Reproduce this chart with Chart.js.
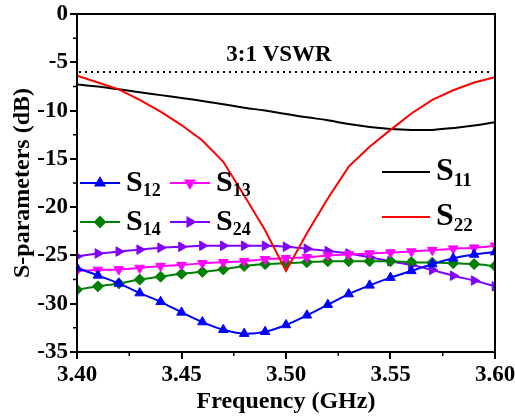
<!DOCTYPE html>
<html>
<head>
<meta charset="utf-8">
<script src="https://cdn.jsdelivr.net/npm/chart.js@4.4.1/dist/chart.umd.min.js"></script>
<style>
  html, body { margin: 0; padding: 0; background: #fff; }
  #wrap { width: 515px; height: 416px; }
</style>
</head>
<body>
<div id="wrap"><canvas id="chart"></canvas></div>
<script>
// frequency points (GHz)
const freq = [3.40, 3.41, 3.42, 3.43, 3.44, 3.45, 3.46, 3.47, 3.48, 3.49, 3.50,
              3.51, 3.52, 3.53, 3.54, 3.55, 3.56, 3.57, 3.58, 3.59, 3.60];

// S-parameters (dB)
const s11 = [-7.3, -7.5, -7.8, -8.1, -8.4, -8.7, -9.0, -9.35, -9.7, -10.0, -10.35,
             -10.7, -11.0, -11.4, -11.7, -11.9, -12.0, -12.0, -11.8, -11.55, -11.2];
const s22 = [-6.4, -7.1, -7.8, -8.9, -10.1, -11.5, -13.1, -15.3, -18.8, -22.4, -26.6,
             -22.7, -19.1, -15.8, -13.75, -12.0, -10.3, -8.9, -7.9, -7.1, -6.55];
const s12 = [-26.3, -27.07, -27.9, -28.9, -29.8, -30.9, -31.9, -32.7, -33.1, -32.9, -32.2,
             -31.2, -30.1, -29.0, -28.1, -27.3, -26.6, -25.9, -25.3, -24.9, -24.65];
const s13 = [-26.6, -26.5, -26.45, -26.3, -26.1, -26.0, -25.8, -25.7, -25.6, -25.4, -25.3,
             -25.2, -25.0, -24.9, -24.8, -24.7, -24.6, -24.45, -24.3, -24.2, -24.0];
const s14 = [-28.55, -28.2, -27.9, -27.5, -27.2, -26.9, -26.7, -26.45, -26.1, -25.9, -25.8,
             -25.7, -25.6, -25.6, -25.6, -25.6, -25.7, -25.75, -25.8, -25.9, -26.1];
const s24 = [-25.1, -24.8, -24.6, -24.4, -24.2, -24.1, -24.0, -24.0, -24.0, -24.0, -24.1,
             -24.3, -24.55, -24.8, -25.2, -25.6, -26.0, -26.5, -27.1, -27.6, -28.2];

const vswrLevel = -6;          // 3:1 VSWR line
const xTicks = [3.40, 3.45, 3.50, 3.55, 3.60];
const yTicks = [0, -5, -10, -15, -20, -25, -30, -35];

const FONT = "'Liberation Serif', 'Times New Roman', serif";
const pts = arr => freq.map((f, i) => ({ x: f, y: arr[i] }));

const series = [
  { key: '11', data: s11, color: '#000000', style: false, rot: 0, tension: 0.4, order: 1 },
  { key: '22', data: s22, color: '#ff0000', style: false, rot: 0, tension: 0, order: 0 },
  { key: '12', data: s12, color: '#0000ff', style: 'triangle', rot: 0, tension: 0.3, order: 2 },
  { key: '13', data: s13, color: '#ff00ff', style: 'triangle', rot: 180, tension: 0.3, order: 3 },
  { key: '14', data: s14, color: '#008000', style: 'rectRot', rot: 0, tension: 0.3, order: 4 },
  { key: '24', data: s24, color: '#8000ff', style: 'triangle', rot: 90, tension: 0.3, order: 5 }
];

// legend entries (label subscripts + where to place them)
const legendItems = [
  { key: '12', x: 80, y: 183, len: 40, size: 30, sub: 18 },
  { key: '13', x: 170, y: 183, len: 40, size: 30, sub: 18 },
  { key: '14', x: 80, y: 222, len: 40, size: 30, sub: 18 },
  { key: '24', x: 170, y: 222, len: 40, size: 30, sub: 18 },
  { key: '11', x: 382, y: 172, len: 48, size: 32, sub: 19 },
  { key: '22', x: 382, y: 217, len: 48, size: 32, sub: 19 }
];

const extras = {
  id: 'extras',
  afterDraw(chart) {
    const ctx = chart.ctx;
    const a = chart.chartArea;
    const xs = chart.scales.x, ys = chart.scales.y;
    ctx.save();
    // frame
    ctx.strokeStyle = '#000';
    ctx.lineWidth = 2;
    ctx.strokeRect(a.left, a.top, a.right - a.left, a.bottom - a.top);
    // minor ticks
    ctx.lineWidth = 1.5;
    ctx.beginPath();
    for (let v = 3.425; v < 3.6; v += 0.05) {
      const px = xs.getPixelForValue(v);
      ctx.moveTo(px, a.bottom); ctx.lineTo(px, a.bottom + 4);
    }
    for (let v = -2.5; v > -35; v -= 5) {
      const py = ys.getPixelForValue(v);
      ctx.moveTo(a.left, py); ctx.lineTo(a.left - 4, py);
    }
    ctx.stroke();
    // VSWR dotted line
    const vy = ys.getPixelForValue(vswrLevel);
    ctx.setLineDash([2, 4]);
    ctx.lineWidth = 2;
    ctx.beginPath();
    ctx.moveTo(a.left + 2, vy); ctx.lineTo(a.right - 2, vy);
    ctx.stroke();
    ctx.setLineDash([]);
    ctx.fillStyle = '#000';
    ctx.font = 'bold 23px ' + FONT;
    ctx.textAlign = 'center';
    ctx.textBaseline = 'alphabetic';
    ctx.fillText('3:1 VSWR', xs.getPixelForValue(3.5) - 7, vy - 11);

    // legend
    legendItems.forEach(it => {
      const s = series.find(d => d.key === it.key);
      ctx.strokeStyle = s.color;
      ctx.lineWidth = 2;
      ctx.beginPath();
      ctx.moveTo(it.x, it.y); ctx.lineTo(it.x + it.len, it.y);
      ctx.stroke();
      if (s.style) {
        ctx.fillStyle = s.color;
        Chart.helpers.drawPoint(ctx, {
          pointStyle: s.style, rotation: s.rot, radius: 5, borderWidth: 1
        }, it.x + it.len / 2, it.y);
      }
      ctx.fillStyle = '#000';
      ctx.textAlign = 'left';
      ctx.font = 'bold ' + it.size + 'px ' + FONT;
      const tx = it.x + it.len + 6;
      const base = it.y + it.size * 0.25;
      ctx.fillText('S', tx, base);
      const w = ctx.measureText('S').width;
      ctx.font = 'bold ' + it.sub + 'px ' + FONT;
      ctx.fillText(it.key, tx + w, base + it.sub * 0.3);
    });
    ctx.restore();
  }
};

new Chart(document.getElementById('chart'), {
  type: 'line',
  data: {
    datasets: series.map(s => ({
      label: 'S' + s.key,
      data: pts(s.data),
      borderColor: s.color,
      backgroundColor: s.color,
      borderWidth: 2,
      tension: s.tension,
      pointStyle: s.style || 'circle',
      pointRotation: s.rot,
      pointRadius: s.style ? 5.5 : 0,
      pointBorderWidth: 1,
      order: s.order
    }))
  },
  options: {
    responsive: true,
    maintainAspectRatio: false,
    animation: false,
    layout: { padding: { top: 14, right: 20, left: 0, bottom: 0 } },
    plugins: { legend: { display: false }, tooltip: { enabled: false } },
    scales: {
      x: {
        type: 'linear',
        min: 3.4, max: 3.6,
        afterBuildTicks: sc => { sc.ticks = xTicks.map(v => ({ value: v })); },
        afterFit: sc => { sc.height = 64; sc.paddingLeft = 0; sc.paddingRight = 0; },
        ticks: {
          callback: v => Number(v).toFixed(2),
          color: '#000', padding: 2, maxRotation: 0,
          font: { family: FONT, size: 23, weight: 'bold' }
        },
        grid: { drawOnChartArea: false, tickLength: 7, color: '#000', lineWidth: 2 },
        border: { color: '#000', width: 2 },
        title: {
          display: true, text: 'Frequency (GHz)', color: '#000',
          font: { family: FONT, size: 24, weight: 'bold' }, padding: { top: 0, bottom: 0 }
        }
      },
      y: {
        min: -35, max: 0,
        afterBuildTicks: sc => { sc.ticks = yTicks.map(v => ({ value: v })); },
        afterFit: sc => { sc.width = 77; sc.paddingTop = 0; sc.paddingBottom = 0; },
        ticks: {
          color: '#000', padding: 2,
          font: { family: FONT, size: 23, weight: 'bold' }
        },
        grid: { drawOnChartArea: false, tickLength: 7, color: '#000', lineWidth: 2 },
        border: { color: '#000', width: 2 },
        title: {
          display: true, text: 'S-parameters (dB)', color: '#000',
          font: { family: FONT, size: 24, weight: 'bold' }, padding: { top: 8, bottom: 0 }
        }
      }
    }
  },
  plugins: [extras]
});
</script>
</body>
</html>
